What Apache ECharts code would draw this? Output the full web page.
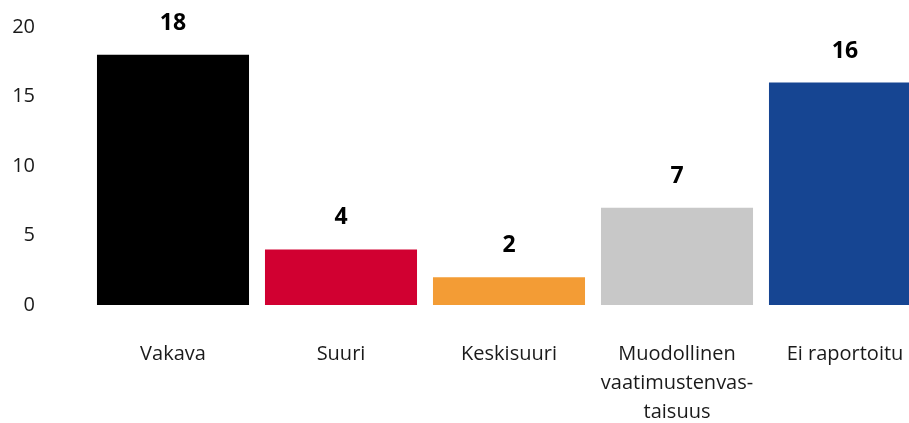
<!DOCTYPE html>
<html>
<head>
<meta charset="utf-8">
<script src="https://cdn.jsdelivr.net/npm/echarts@6/dist/echarts.min.js"></script>
<style>
html, body { margin: 0; padding: 0; background: #fff; }
#main { width: 909px; height: 423px; }
</style>
</head>
<body>
<div id="main"></div>
<script>
// luokat ja arvot
var categories = ['Vakava', 'Suuri', 'Keskisuuri', 'Muodollinen\nvaatimustenvas-\ntaisuus', 'Ei raportoitu'];
var values = [18, 4, 2, 7, 16];
var barColors = ['#000000', '#d10031', '#f39c35', '#c8c8c8', '#164592'];
var yTicks = [0, 5, 10, 15, 20];

var myChart = echarts.init(document.getElementById('main'));
var option = {
    animation: false,
    textStyle: { fontFamily: 'Open Sans' },
    grid: { left: 89, width: 840, top: 27, bottom: 118, containLabel: false, outerBoundsMode: 'none' },
    xAxis: {
        type: 'category',
        data: categories,
        axisLine: { show: false },
        axisTick: { show: false },
        axisLabel: {
            margin: 35,
            fontSize: 20,
            lineHeight: 29,
            color: '#1a1a1a',
            interval: 0,
            fontFamily: 'Open Sans'
        }
    },
    yAxis: {
        type: 'value',
        min: yTicks[0],
        max: yTicks[yTicks.length - 1],
        interval: 5,
        splitLine: { show: false },
        axisLine: { show: false },
        axisTick: { show: false },
        axisLabel: {
            margin: 54,
            fontSize: 20,
            color: '#1a1a1a',
            fontFamily: 'Open Sans'
        }
    },
    series: [{
        type: 'bar',
        barCategoryGap: '9.5%',
        data: values.map(function (v, i) {
            return { value: v, itemStyle: { color: barColors[i] } };
        }),
        label: {
            show: true,
            position: 'top',
            distance: 20,
            fontSize: 23,
            fontWeight: 'bold',
            color: '#000',
            fontFamily: 'Open Sans'
        }
    }]
};
myChart.setOption(option);
</script>
</body>
</html>
